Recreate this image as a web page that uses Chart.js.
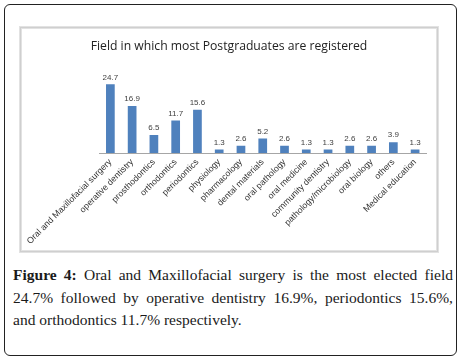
<!DOCTYPE html>
<html>
<head>
<meta charset="utf-8">
<script src="https://cdn.jsdelivr.net/npm/chart.js@4"></script>
<style>
  body { margin: 0; background: #fff; width: 463px; height: 361px; overflow: hidden; }
  #frame {
    position: absolute; left: 4px; top: 4px; width: 451px; height: 350px;
    border: 1.5px solid #222; border-radius: 6px;
  }
  #box {
    position: absolute; left: 19px; top: 26px; width: 414px; height: 221px;
    border: 3px solid #e2e2e2; outline: 1px solid #cfcfcf; outline-offset: -2px;
    background: #fff;
  }
  #box canvas { position: absolute; left: 0; top: 0; }
  #caption {
    position: absolute; left: 13px; top: 264px; width: 440px;
    font-family: "Liberation Serif", "DejaVu Serif", serif; font-size: 15.5px;
    line-height: 22.5px; color: #1a1a1a; text-align: justify;
  }
  #caption b { font-weight: 600; }
</style>
</head>
<body>
<div id="frame"></div>
<div id="box"><canvas id="myChart" width="414" height="221"></canvas></div>
<div id="caption"><b>Figure 4:</b> Oral and Maxillofacial surgery is the most elected field 24.7% followed by operative dentistry 16.9%, periodontics 15.6%, and orthodontics 11.7% respectively.</div>

<script>
  // categories and values
  const fields = ['Oral and Maxillofacial surgery', 'operative dentistry', 'prosthodontics',
    'orthodontics', 'periodontics', 'physiology', 'pharmacology', 'dental materials',
    'oral pathology', 'oral medicine', 'community dentistry', 'pathology/microbiology',
    'oral biology', 'others', 'Medical education'];
  const percents = [24.7, 16.9, 6.5, 11.7, 15.6, 1.3, 2.6, 5.2, 2.6, 1.3, 1.3, 2.6, 2.6, 3.9, 1.3];
  const chartTitle = 'Field in which most Postgraduates are registered';

  // small plugin to put the value over each bar
  const valueLabels = {
    id: 'valueLabels',
    afterDatasetsDraw(chart) {
      const ctx = chart.ctx;
      const meta = chart.getDatasetMeta(0);
      ctx.save();
      ctx.font = '8px "Liberation Sans", sans-serif';
      ctx.fillStyle = '#404040';
      ctx.textAlign = 'center';
      ctx.textBaseline = 'bottom';
      meta.data.forEach(function(bar, i) {
        ctx.fillText(percents[i].toFixed(1), bar.x, bar.y - 3);
      });
      ctx.restore();
    }
  };

  var canvas = document.getElementById('myChart');
  chart = new Chart(canvas, {
    type: 'bar',
    data: {
      labels: fields,
      datasets: [{
        data: percents,
        backgroundColor: '#4f81bd',
        barPercentage: 0.4,
        categoryPercentage: 1.0
      }]
    },
    options: {
      responsive: false,
      animation: false,
      // equal side padding keeps the title centred in the box
      layout: { padding: { left: 10, right: 10, top: 0, bottom: 0 } },
      plugins: {
        legend: { display: false },
        tooltip: { enabled: false },
        title: {
          display: true,
          text: chartTitle,
          color: '#222',
          font: { family: '"Open Sans", sans-serif', size: 12.2, weight: 'normal' },
          padding: { top: 10, bottom: 16 }
        }
      },
      scales: {
        y: {
          min: 0,
          max: 30,
          grid: { display: false },
          border: { display: false },
          ticks: { display: false },
          afterFit: function(scale) { scale.width = 63; }
        },
        x: {
          grid: { display: false, drawTicks: false },
          border: { color: '#a6a6a6' },
          ticks: {
            autoSkip: false,
            minRotation: 45,
            maxRotation: 45,
            padding: 4,
            color: '#333',
            font: { family: '"Liberation Sans", sans-serif', size: 8.8 }
          },
          afterFit: function(scale) { scale.height = 97; }
        }
      }
    },
    plugins: [valueLabels]
  });
</script>
</body>
</html>
